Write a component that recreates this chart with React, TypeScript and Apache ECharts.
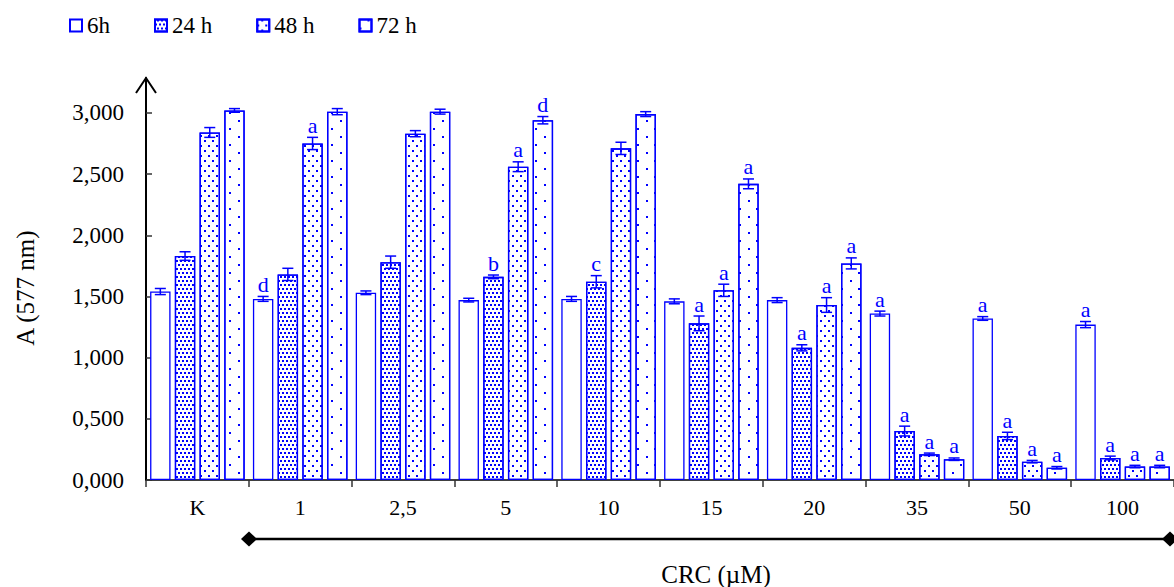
import React, { useEffect, useRef } from "react";
import * as echarts from "echarts";

const categories = ["K", "1", "2,5", "5", "10", "15", "20", "35", "50", "100"];
const seriesNames = ["6h", "24 h", "48 h", "72 h"];

const values6h = [1.54, 1.48, 1.53, 1.47, 1.48, 1.46, 1.47, 1.36, 1.32, 1.27];
const values24h = [1.83, 1.68, 1.78, 1.66, 1.62, 1.28, 1.08, 0.4, 0.36, 0.18];
const values48h = [2.84, 2.75, 2.83, 2.56, 2.71, 1.55, 1.43, 0.21, 0.15, 0.11];
const values72h = [3.02, 3.01, 3.01, 2.94, 2.99, 2.42, 1.77, 0.17, 0.1, 0.11];

const err6h = [0.025, 0.02, 0.015, 0.015, 0.02, 0.02, 0.02, 0.02, 0.015, 0.025];
const err24h = [0.035, 0.05, 0.05, 0.015, 0.05, 0.06, 0.025, 0.04, 0.03, 0.015];
const err48h = [0.04, 0.05, 0.025, 0.04, 0.05, 0.05, 0.06, 0.01, 0.01, 0.01];
const err72h = [0.015, 0.025, 0.02, 0.03, 0.02, 0.04, 0.045, 0.01, 0.01, 0.01];

const letters6h = ["", "d", "", "", "", "", "", "a", "a", "a"];
const letters24h = ["", "", "", "b", "c", "a", "a", "a", "a", "a"];
const letters48h = ["", "a", "", "a", "", "a", "a", "a", "a", "a"];
const letters72h = ["", "", "", "d", "", "a", "a", "a", "a", "a"];

const yTicks = [0, 0.5, 1, 1.5, 2, 2.5, 3];

const allValues = [values6h, values24h, values48h, values72h];
const allErrors = [err6h, err24h, err48h, err72h];
const allLetters = [letters6h, letters24h, letters48h, letters72h];

const BLUE = "#0000ff";
const FONT = "'Liberation Serif', 'Times New Roman', serif";
const CAT_GAP = 0.08;
const BAR_GAP = 0.21;
const GRID_LEFT = 146;
const GRID_TOP = 78;

const decals: any[] = [
  null,
  { symbol: "rect", symbolSize: 1, color: BLUE, dashArrayX: [[2, 2], [0, 2, 2, 0]], dashArrayY: [2, 2] },
  { symbol: "rect", symbolSize: 1, color: BLUE, dashArrayX: [[2, 6], [0, 4, 2, 2]], dashArrayY: [2, 3] },
  { symbol: "rect", symbolSize: 1, color: BLUE, dashArrayX: [[2, 15], [0, 8, 2, 7]], dashArrayY: [2, 6] },
];

export default function App() {
  const ref = useRef<HTMLDivElement>(null);
  useEffect(() => {
    if (!ref.current) return;
    const chart = echarts.init(ref.current, null, { renderer: "svg" });

    const barSeries = seriesNames.map((name, i) => ({
      type: "bar",
      name,
      data: allValues[i],
      barCategoryGap: CAT_GAP * 100 + "%",
      barGap: BAR_GAP * 100 + "%",
      itemStyle: {
        color: "#ffffff",
        borderColor: BLUE,
        borderWidth: 1.3,
        decal: decals[i] || undefined,
      },
      z: 2,
    }));

    const errSeries = seriesNames.map((name, sIdx) => ({
      type: "custom",
      name: name + "-err",
      data: allValues[sIdx].map((v, ci) => [ci, v]),
      z: 5,
      renderItem: (params: any, api: any) => {
        const ci = api.value(0);
        const v = api.value(1);
        const e = allErrors[sIdx][params.dataIndex];
        const letter = allLetters[sIdx][params.dataIndex];
        const band = api.size([1, 0])[0];
        const usable = band * (1 - CAT_GAP);
        const bw = usable / (4 + 3 * BAR_GAP);
        const cx = api.coord([ci, 0])[0] - usable / 2 + bw / 2 + sIdx * bw * (1 + BAR_GAP);
        const yTop = api.coord([ci, v + e])[1];
        const yBot = api.coord([ci, v - e])[1];
        const cap = bw * 0.27;
        const ls = { stroke: BLUE, lineWidth: 1.5 };
        const children: any[] = [
          { type: "line", shape: { x1: cx, y1: yTop, x2: cx, y2: yBot }, style: ls },
          { type: "line", shape: { x1: cx - cap, y1: yTop, x2: cx + cap, y2: yTop }, style: ls },
          { type: "line", shape: { x1: cx - cap, y1: yBot, x2: cx + cap, y2: yBot }, style: ls },
        ];
        if (letter) {
          children.push({
            type: "text",
            style: {
              text: letter,
              x: cx,
              y: yTop - 1,
              align: "center",
              verticalAlign: "bottom",
              fill: BLUE,
              font: `22px ${FONT}`,
            },
          });
        }
        return { type: "group", children };
      },
    }));

    chart.setOption({
      animation: false,
      backgroundColor: "#ffffff",
      textStyle: { fontFamily: FONT },
      legend: {
        data: seriesNames,
        left: 64,
        top: 9,
        icon: "rect",
        itemWidth: 12,
        itemHeight: 12,
        itemGap: 44,
        textStyle: { color: "#000", fontSize: 23, fontFamily: FONT },
      },
      grid: { left: GRID_LEFT, right: -5, top: GRID_TOP, bottom: 107, containLabel: false },
      xAxis: {
        type: "category",
        data: categories,
        axisLine: { lineStyle: { color: "#000", width: 1.5 } },
        axisTick: { show: true, length: 7, lineStyle: { color: "#333", width: 1.5 } },
        axisLabel: { color: "#000", fontSize: 22, fontFamily: FONT, margin: 16 },
        splitLine: { show: false },
      },
      yAxis: {
        type: "value",
        min: 0,
        max: 3.285,
        axisLine: { show: true, lineStyle: { color: "#000", width: 2 } },
        axisTick: {
          show: true,
          inside: true,
          length: 6,
          customValues: yTicks,
          lineStyle: { color: "#333", width: 1.5 },
        },
        axisLabel: {
          color: "#000",
          fontSize: 23,
          fontFamily: FONT,
          margin: 22,
          customValues: yTicks,
          formatter: (v: number) => v.toFixed(3).replace(".", ","),
        },
        splitLine: { show: false },
      },
      graphic: [
        {
          type: "polyline",
          shape: {
            points: [
              [GRID_LEFT - 10, GRID_TOP + 15],
              [GRID_LEFT, GRID_TOP],
              [GRID_LEFT + 10, GRID_TOP + 15],
            ],
          },
          style: { stroke: "#000", lineWidth: 2, fill: "none" },
          z: 10,
        },
        {
          type: "text",
          x: 25,
          y: 288,
          rotation: Math.PI / 2,
          style: {
            text: "A (577 nm)",
            align: "center",
            verticalAlign: "middle",
            fill: "#000",
            font: `25px ${FONT}`,
          },
        },
        {
          type: "text",
          x: 716,
          y: 574,
          style: {
            text: "CRC (\u00b5M)",
            align: "center",
            verticalAlign: "middle",
            fill: "#000",
            font: `25px ${FONT}`,
          },
        },
        {
          type: "line",
          shape: { x1: 249, y1: 539, x2: 1170, y2: 539 },
          style: { stroke: "#000", lineWidth: 2.5 },
        },
        {
          type: "polygon",
          shape: { points: [[241, 539], [249, 531.5], [257, 539], [249, 546.5]] },
          style: { fill: "#000" },
        },
        {
          type: "polygon",
          shape: { points: [[1162, 539], [1170, 531.5], [1178, 539], [1170, 546.5]] },
          style: { fill: "#000" },
        },
      ],
      series: [...barSeries, ...errSeries],
    });

    return () => chart.dispose();
  }, []);

  return (
    <div
      ref={ref}
      style={{ position: "fixed", left: 0, top: 0, width: 1174, height: 587 }}
    />
  );
}
